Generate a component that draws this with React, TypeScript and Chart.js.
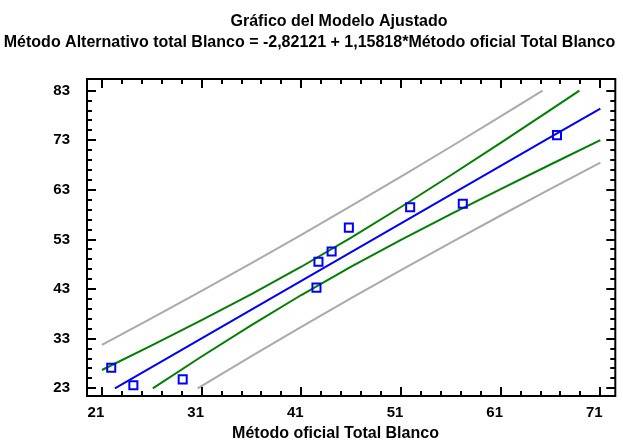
import React, { useEffect, useRef } from 'react';
import { Chart, registerables } from 'chart.js';

Chart.register(...registerables);

const titleLine1 = 'Gráfico del Modelo Ajustado';
const titleLine2 = 'Método Alternativo total Blanco = -2,82121 + 1,15818*Método oficial Total Blanco';
const xAxisLabel = 'Método oficial Total Blanco';

const xTickLabels = [21, 31, 41, 51, 61, 71];
const yTickLabels = [23, 33, 43, 53, 63, 73, 83];
const minorStep = 2;
const xRange = [19.5, 72.5];
const yRange = [21.45, 85.36];

// observed points
const obsX = [21.93, 24.15, 29.1, 42.52, 42.72, 44.04, 45.77, 51.92, 57.2, 66.65];
const obsY = [27.15, 23.6, 24.8, 43.3, 48.5, 50.6, 55.4, 59.5, 60.2, 74.05];

// fitted line
const fitX = [22.3, 26, 31, 36, 41, 46, 51, 56, 61, 66, 71];
const fitY = [23.0, 27.29, 33.08, 38.87, 44.66, 50.46, 56.25, 62.04, 67.83, 73.62, 79.41];

// confidence limits (green)
const confUpperX = [21, 26, 31, 36, 41, 46, 51, 56, 61, 66, 68.9];
const confUpperY = [26.69, 31.67, 36.75, 42.0, 47.51, 53.37, 59.55, 65.95, 72.49, 79.12, 83.0];
const confLowerX = [26.1, 31, 36, 41, 46, 51, 56, 61, 66, 71];
const confLowerY = [23.0, 29.41, 35.74, 41.81, 47.55, 52.95, 58.13, 63.17, 68.12, 73.03];

// prediction limits (gray)
const predUpperX = [21, 26, 31, 36, 41, 46, 51, 56, 61, 65.2];
const predUpperY = [31.74, 37.15, 42.64, 48.24, 53.94, 59.76, 65.68, 71.7, 77.82, 83.0];
const predLowerX = [30.6, 36, 41, 46, 51, 56, 61, 66, 71];
const predLowerY = [23.0, 29.5, 35.38, 41.16, 46.82, 52.38, 57.84, 63.22, 68.51];

const FONT = '"Liberation Sans", Arial, sans-serif';

const zip = (xs: number[], ys: number[]) => xs.map((x, i) => ({ x, y: ys[i] }));

const framePlugin = {
  id: 'frameTicks',
  afterDatasetsDraw(chart: any) {
    const { ctx, chartArea, scales } = chart;
    const { left, right, top, bottom } = chartArea;
    const xs = scales.x;
    const ys = scales.y;
    ctx.save();
    ctx.strokeStyle = '#000';
    ctx.lineWidth = 2;
    ctx.strokeRect(left, top, right - left, bottom - top);
    const major = 9;
    const minor = 5;
    ctx.beginPath();
    const x0 = xTickLabels[0];
    const x1 = xTickLabels[xTickLabels.length - 1];
    for (let v = x0; v <= x1 + 1e-9; v += minorStep) {
      const p = Math.round(xs.getPixelForValue(v));
      const len = xTickLabels.includes(v) ? major : minor;
      ctx.moveTo(p, bottom);
      ctx.lineTo(p, bottom - len);
      ctx.moveTo(p, top);
      ctx.lineTo(p, top + len);
    }
    const y0 = yTickLabels[0];
    const y1 = yTickLabels[yTickLabels.length - 1];
    for (let v = y0; v <= y1 + 1e-9; v += minorStep) {
      const p = Math.round(ys.getPixelForValue(v));
      const len = yTickLabels.includes(v) ? major : minor;
      ctx.moveTo(left, p);
      ctx.lineTo(left + len, p);
      ctx.moveTo(right, p);
      ctx.lineTo(right - len, p);
    }
    ctx.stroke();
    ctx.restore();
  },
  afterDraw(chart: any) {
    const { ctx } = chart;
    ctx.save();
    ctx.fillStyle = '#000';
    ctx.font = `bold 16px ${FONT}`;
    ctx.textAlign = 'center';
    ctx.textBaseline = 'alphabetic';
    ctx.fillText(titleLine1, 339, 26);
    ctx.fillText(titleLine2, 309.5, 47);
    ctx.fillText(xAxisLabel, 335.5, 438);
    ctx.restore();
  },
};

export default function App() {
  const ref = useRef<HTMLCanvasElement | null>(null);
  useEffect(() => {
    if (!ref.current) return;
    const tickFont = { family: FONT, size: 15, weight: 'bold' as const };
    const chart = new Chart(ref.current, {
      type: 'scatter',
      data: {
        datasets: [
          {
            label: 'Observaciones',
            data: zip(obsX, obsY),
            pointStyle: 'rect',
            pointRadius: 5.7,
            pointBorderWidth: 2,
            borderColor: '#0000FF',
            backgroundColor: 'rgba(0,0,0,0)',
            showLine: false,
          },
          {
            label: 'Ajuste',
            data: zip(fitX, fitY),
            showLine: true,
            borderColor: '#0000FF',
            borderWidth: 2,
            pointRadius: 0,
            tension: 0,
          },
          {
            label: 'Conf. sup',
            data: zip(confUpperX, confUpperY),
            showLine: true,
            borderColor: '#008000',
            borderWidth: 2,
            pointRadius: 0,
            tension: 0,
          },
          {
            label: 'Conf. inf',
            data: zip(confLowerX, confLowerY),
            showLine: true,
            borderColor: '#008000',
            borderWidth: 2,
            pointRadius: 0,
            tension: 0,
          },
          {
            label: 'Pred. sup',
            data: zip(predUpperX, predUpperY),
            showLine: true,
            borderColor: '#AAAAAA',
            borderWidth: 2,
            pointRadius: 0,
            tension: 0,
          },
          {
            label: 'Pred. inf',
            data: zip(predLowerX, predLowerY),
            showLine: true,
            borderColor: '#AAAAAA',
            borderWidth: 2,
            pointRadius: 0,
            tension: 0,
          },
        ],
      },
      options: {
        responsive: false,
        animation: false,
        devicePixelRatio: 1,
        layout: { padding: { left: 0, right: 2, top: 79, bottom: 0 } },
        plugins: {
          legend: { display: false },
          tooltip: { enabled: false },
          title: { display: false },
        },
        scales: {
          x: {
            type: 'linear',
            min: xRange[0],
            max: xRange[1],
            grid: { display: false, drawTicks: false },
            border: { display: false },
            afterBuildTicks: (s: any) => {
              s.ticks = xTickLabels.map((v) => ({ value: v }));
            },
            afterFit: (s: any) => {
              s.height = 46;
            },
            ticks: {
              font: tickFont,
              color: '#000',
              padding: 8,
              labelOffset: -6,
              maxRotation: 0,
              autoSkip: false,
              callback: (v: any) => String(v),
            },
          },
          y: {
            type: 'linear',
            min: yRange[0],
            max: yRange[1],
            grid: { display: false, drawTicks: false },
            border: { display: false },
            afterBuildTicks: (s: any) => {
              s.ticks = yTickLabels.map((v) => ({ value: v }));
            },
            afterFit: (s: any) => {
              s.width = 87;
            },
            ticks: {
              font: tickFont,
              color: '#000',
              padding: 17,
              autoSkip: false,
              callback: (v: any) => String(v),
            },
          },
        },
      },
      plugins: [framePlugin],
    });
    return () => chart.destroy();
  }, []);
  return (
    <div style={{ position: 'absolute', left: 0, top: 0, width: 623, height: 442, background: '#fff' }}>
      <canvas ref={ref} width={623} height={442} />
    </div>
  );
}
